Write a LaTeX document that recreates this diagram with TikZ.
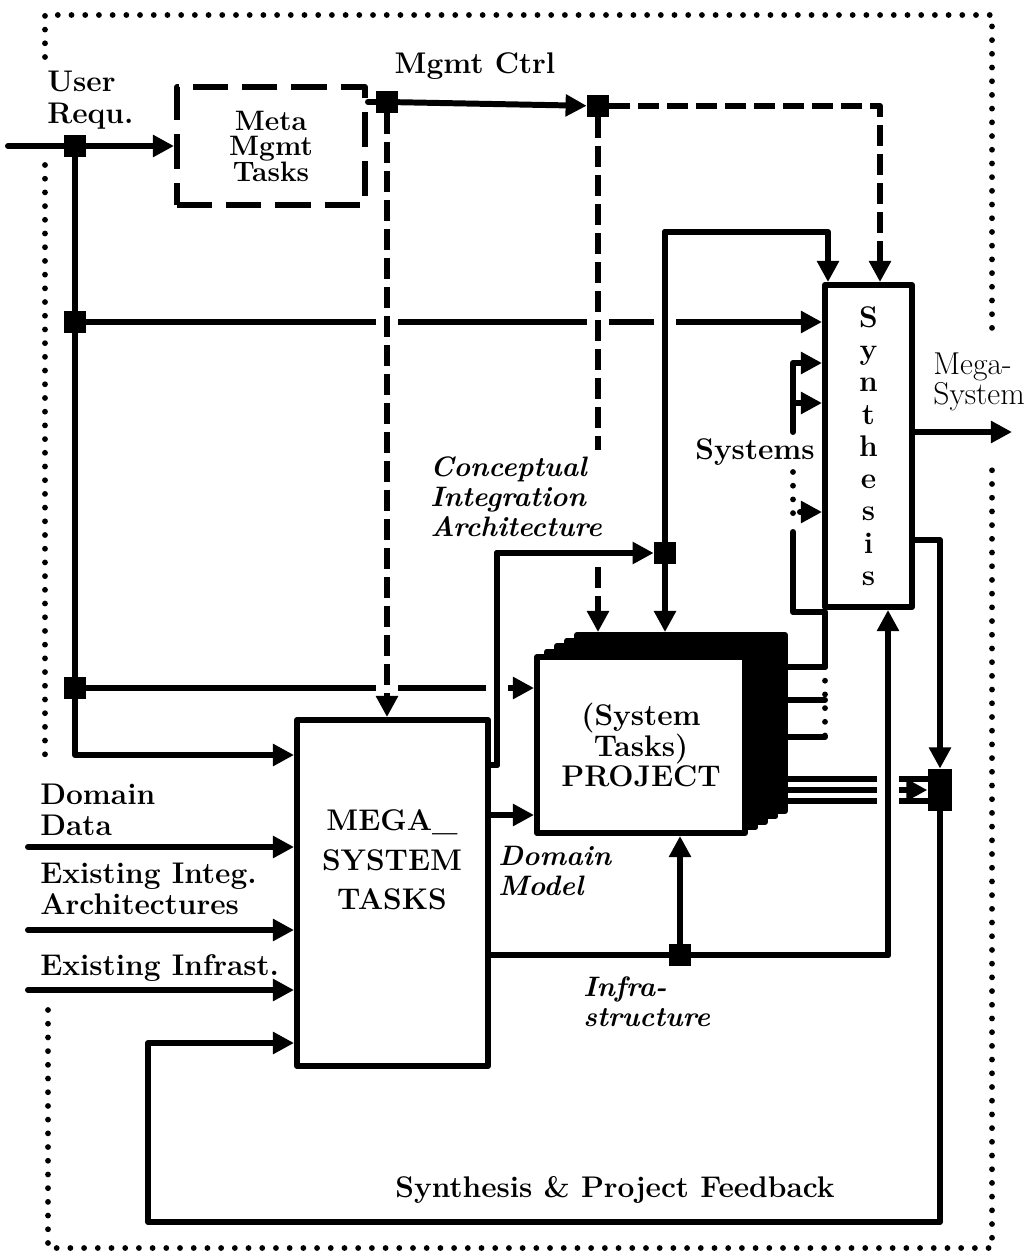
\documentclass[tikz,border=0pt]{standalone}
\usetikzlibrary{arrows.meta}
\tikzset{
  ln/.style={line width=3.4pt, line join=round, line cap=round},
  arr/.style={ln, -{Triangle[length=12pt,width=12pt]}},
  dsh/.style={ln, dash pattern=on 12pt off 4.5pt, line cap=butt},
  dots/.style={line width=3.3pt, line cap=round, dash pattern=on 0pt off 7.8pt},
  box/.style={draw, ln, fill=white, inner sep=0pt},
  jbox/.style={fill=black, minimum size=12.5pt, inner sep=0pt},
  txt/.style={font=\fontsize{17}{18}\selectfont\bfseries, inner sep=0pt},
  itl/.style={txt, font=\fontsize{16}{17}\selectfont\bfseries\itshape},
  over/.style={preaction={draw=white, solid, -, line width=12pt, shorten <=#1, shorten >=#1}},
  over/.default=14pt
}
\begin{document}
\begin{tikzpicture}[x=0.02cm, y=-0.02cm]
\useasboundingbox (0,0) rectangle (1029,1257);

% Frame
\draw[dots] (45,57) -- (45,15) -- (992,15) -- (992,335);
\draw[dots] (45,165) -- (45,765);
\draw[dots] (48,1010) -- (48,1248) -- (992,1248) -- (992,460);

% Boxes
\node[box, dash pattern=on 20pt off 8pt, line cap=butt, txt, align=center,
  font=\fontsize{16}{14.5}\selectfont\bfseries,
  minimum width=3.76cm, minimum height=2.36cm] (meta) at (271,146) {Meta\\Mgmt\\Tasks};
\node[box, minimum width=3.82cm, minimum height=6.92cm] (mega) at (392.5,893) {};
\node[txt, align=center, font=\fontsize{17}{22.5}\selectfont\bfseries] (megaT) at (392,860) {MEGA\_\\SYSTEM\\TASKS};
\coordinate (pc) at (641,745);
\foreach \k in {4,3,2,1}
  \node[box, fill=black, minimum width=4.16cm, minimum height=3.52cm] (proj\k) at ([shift={(10*\k,-5.5*\k)}]pc) {};
\node[box, txt, align=center, font=\fontsize{17}{17}\selectfont\bfseries,
  minimum width=4.16cm, minimum height=3.52cm] (proj) at (pc) {(System\\Tasks)\\PROJECT};
\node[box, txt, align=center, font=\fontsize{17}{18.4}\selectfont\bfseries,
  minimum width=1.74cm, minimum height=6.44cm] (synth) at (868.5,446) {S\\y\\n\\t\\h\\e\\s\\i\\s};

% Junctions
\node[jbox] (jUser) at (75,146) {};
\node[jbox] (jUser2) at (75,322) {};
\node[jbox] (jUser3) at (75,688) {};
\node[jbox] (jCtrl) at (387,102) {};
\node[jbox] (jCtrl2) at (598,106) {};
\node[jbox] (jArch) at (665,553) {};
\node[jbox] (jInfra) at (680,955) {};
\node[jbox, minimum width=14pt, minimum height=24pt] (jSyn) at (940,790) {};

% Labels
\node[txt, align=left, anchor=west] (lUser) at (47,100) {User\\Requ.};
\node[txt] (lCtrl) at (475,66) {Mgmt Ctrl};
\node[txt, align=left, anchor=west] (lData) at (40,810) {Domain\\Data};
\node[txt, align=left, anchor=west] (lInteg) at (40,889) {Existing Integ.\\Architectures};
\node[txt, anchor=west] (lInfra) at (40,968) {Existing Infrast.};
\node[itl, align=left, anchor=west] (lArch) at (430,497) {Conceptual\\Integration\\Architecture};
\node[txt] (lSys) at (755,452) {Systems};
\node[itl, align=left, anchor=west] (lModel) at (498,871) {Domain\\Model};
\node[itl, align=left, anchor=west] (lStruct) at (583,1002) {Infra-\\structure};
\node[txt, font=\fontsize{18}{15}\selectfont, align=left, anchor=west] (lMega) at (933,382) {Mega-\\System};
\node[txt] (lFeed) at (615,1190) {Synthesis \& Project Feedback};

% User requirements
\coordinate (inUser) at (8,146);
\draw[ln] (inUser) -- (jUser);
\draw[arr] (jUser) -- (meta.west);
\draw[ln] (jUser) -- (jUser2) -- (jUser3);
\coordinate (uc) at (75,755);
\draw[arr] (jUser3) -- (uc) -- (uc -| mega.west);
\draw[arr] (jUser2) -- (jUser2 -| synth.west);
\draw[arr] (jUser3) -- (jUser3 -| proj.west);

% Project to feedback junction
\coordinate (p1) at (900,779);
\coordinate (p3) at (900,801);
\draw[ln] (p1 -| proj4.east) -- (p1 -| jSyn.west);
\draw[ln] (p3 -| proj4.east) -- (p3 -| jSyn.west);
\draw[arr] (jSyn -| proj4.east) -- (jSyn.west);

% Management control
\draw[ln] (meta.east |- jCtrl) -- (jCtrl);
\draw[arr] (jCtrl) -- (jCtrl2);
\coordinate (c2) at (880,106);
\draw[arr, dsh] (jCtrl2) -- (c2) -- (c2 |- synth.north);
\draw[arr, dsh, over] (jCtrl) -- (jCtrl |- mega.north);
\coordinate (cEnd) at (598,450);
\draw[dsh, over] (jCtrl2) -- (cEnd);
\coordinate (cStart) at (598,567);
\draw[arr, dsh] (cStart) -- (cStart |- proj4.north);

% Conceptual integration architecture
\coordinate (aCorner) at (497,765);
\coordinate (aUp) at (497,553);
\draw[ln] (aCorner -| mega.east) -- (aCorner);
\draw[ln, over=28pt] (aCorner) -- (aUp);
\draw[arr] (aUp) -- (jArch);
\coordinate (aTop) at (665,232);
\draw[ln, over] (jArch) -- (aTop);
\coordinate (sTop1) at (828,232);
\draw[arr] (aTop) -- (sTop1) -- (sTop1 |- synth.north);
\draw[arr] (jArch) -- (jArch |- proj4.north);

% Domain model
\coordinate (dm) at (512,815);
\draw[arr] (dm -| mega.east) -- (dm -| proj.west);

% Infrastructure
\draw[ln] (jInfra -| mega.east) -- (jInfra);
\coordinate (iCorner) at (888,955);
\draw[ln] (jInfra) -- (iCorner);
\draw[arr, over] (iCorner) -- (iCorner |- synth.south);
\draw[arr] (jInfra) -- (jInfra |- proj.south);

% Systems
\coordinate (s1) at (793,363);
\coordinate (s2) at (793,403);
\coordinate (s3) at (800,512);
\coordinate (s4) at (793,432);
\coordinate (s5) at (793,472);
\coordinate (s6) at (793,525);
\draw[arr] (s4) -- (s1) -- (s1 -| synth.west);
\draw[arr] (s2) -- (s2 -| synth.west);
\draw[dots] (s5) -- (s6);
\draw[arr] (s3) -- (s3 -| synth.west);
\coordinate (s7) at (793,532);
\coordinate (s8) at (825,612);
\coordinate (o1) at (825,667);
\coordinate (o2) at (825,700);
\coordinate (o3) at (825,737);
\draw[ln] (s7) |- (s8) -- (o1) -- (o1 -| proj4.east);
\draw[ln] (o2) -- (o2 -| proj4.east);
\draw[ln] (o3) -- (o3 -| proj4.east);
\draw[dots] (o1) -- (o3);

% Synthesis outputs
\coordinate (mOut) at (1012,432);
\draw[arr] (mOut -| synth.east) -- (mOut);
\coordinate (fb0) at (940,540);
\draw[arr] (fb0 -| synth.east) -- (fb0) -- (jSyn.north);
\coordinate (fb1) at (940,1222);
\coordinate (fb2) at (148,1222);
\coordinate (fb3) at (148,1043);
\draw[arr] (jSyn) -- (fb1) -- (fb2) -- (fb3) -- (fb3 -| mega.west);

% Inputs
\coordinate (in1) at (28,847);
\coordinate (in2) at (28,930);
\coordinate (in3) at (28,990);
\foreach \n in {in1,in2,in3}
  \draw[arr] (\n) -- (\n -| mega.west);

\end{tikzpicture}
\end{document}
